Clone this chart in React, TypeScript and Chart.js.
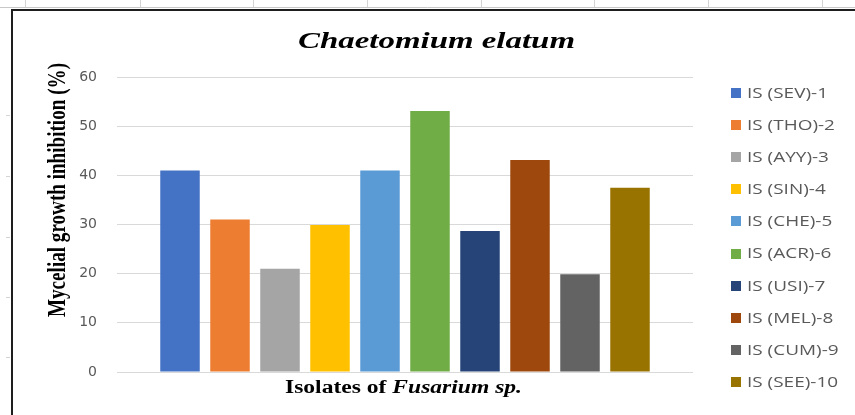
import React, { useEffect, useRef } from "react";
import { Chart, registerables } from "chart.js";

Chart.register(...registerables);

const isolates = [
  "IS (SEV)-1",
  "IS (THO)-2",
  "IS (AYY)-3",
  "IS (SIN)-4",
  "IS (CHE)-5",
  "IS (ACR)-6",
  "IS (USI)-7",
  "IS (MEL)-8",
  "IS (CUM)-9",
  "IS (SEE)-10",
];
const inhibition = [41.0, 31.0, 21.0, 29.9, 41.0, 53.1, 28.7, 43.1, 19.9, 37.5];
const barColors = [
  "#4472C4",
  "#ED7D31",
  "#A5A5A5",
  "#FFC000",
  "#5B9BD5",
  "#70AD47",
  "#264478",
  "#9E480E",
  "#636363",
  "#997300",
];
const yMin = 0;
const yMax = 60;
const yStep = 10;
const chartTitle = "Chaetomium elatum";
const yTitle = "Mycelial growth inhibition (%)";
const xTitleParts = [
  { text: "Isolates of ", italic: false },
  { text: "Fusarium sp.", italic: true },
];

type Part = { text: string; font: string };

function drawFitted(
  ctx: CanvasRenderingContext2D,
  parts: Part[],
  cx: number,
  baseline: number,
  targetWidth: number,
  color: string
) {
  let total = 0;
  const widths: number[] = [];
  for (const p of parts) {
    ctx.font = p.font;
    const w = ctx.measureText(p.text).width;
    widths.push(w);
    total += w;
  }
  const s = targetWidth / total;
  ctx.save();
  ctx.translate(cx - targetWidth / 2, baseline);
  ctx.scale(s, 1);
  ctx.fillStyle = color;
  ctx.textBaseline = "alphabetic";
  ctx.textAlign = "left";
  let x = 0;
  parts.forEach((p, i) => {
    ctx.font = p.font;
    ctx.fillText(p.text, x, 0);
    x += widths[i];
  });
  ctx.restore();
}

const decorPlugin = {
  id: "decor",
  beforeDraw(chart: any) {
    const ctx: CanvasRenderingContext2D = chart.ctx;
    ctx.save();
    ctx.fillStyle = "#ffffff";
    ctx.fillRect(0, 0, chart.width, chart.height);
    // spreadsheet cell marks outside the chart frame
    ctx.strokeStyle = "#d4d4d4";
    ctx.lineWidth = 1;
    [25, 140, 253, 367, 481, 594, 708, 822].forEach((x) => {
      ctx.beginPath();
      ctx.moveTo(x + 0.5, 0);
      ctx.lineTo(x + 0.5, 7);
      ctx.stroke();
    });
    [115, 176, 237, 297, 357].forEach((y) => {
      ctx.beginPath();
      ctx.moveTo(6, y + 0.5);
      ctx.lineTo(10, y + 0.5);
      ctx.stroke();
    });
    ctx.strokeStyle = "#c8c8c8";
    ctx.beginPath();
    ctx.moveTo(0, 7.5);
    ctx.lineTo(chart.width, 7.5);
    ctx.stroke();
    // chart frame
    ctx.strokeStyle = "#1e1e1e";
    ctx.lineWidth = 2;
    ctx.beginPath();
    ctx.moveTo(chart.width, 10);
    ctx.lineTo(12, 10);
    ctx.lineTo(12, chart.height);
    ctx.stroke();
    ctx.restore();
  },
  afterDraw(chart: any) {
    const ctx: CanvasRenderingContext2D = chart.ctx;
    const serif = '"Liberation Serif", "Times New Roman", serif';
    // title
    drawFitted(
      ctx,
      [{ text: chartTitle, font: `italic bold 24px ${serif}` }],
      436.5,
      48,
      277,
      "#000000"
    );
    // x axis title
    drawFitted(
      ctx,
      xTitleParts.map((p) => ({
        text: p.text,
        font: `${p.italic ? "italic " : ""}bold 18px ${serif}`,
      })),
      403.5,
      393,
      237,
      "#000000"
    );
    // y axis title (rotated)
    ctx.save();
    ctx.translate(65, 190);
    ctx.rotate(-Math.PI / 2);
    drawFitted(ctx, [{ text: yTitle, font: `bold 26px ${serif}` }], 0, 0, 254, "#000000");
    ctx.restore();
    // legend
    ctx.save();
    const lfont = '14px "Open Sans", "Liberation Sans", sans-serif';
    ctx.font = lfont;
    const w0 = ctx.measureText(chart.data.datasets[0].label).width;
    const sx = 81 / w0;
    chart.data.datasets.forEach((ds: any, i: number) => {
      const cy = 93 + i * 32.1;
      ctx.fillStyle = ds.backgroundColor;
      ctx.fillRect(731, Math.round(cy - 5), 10, 10);
      ctx.save();
      ctx.translate(747, cy);
      ctx.scale(sx, 1);
      ctx.font = lfont;
      ctx.fillStyle = "#595959";
      ctx.textBaseline = "middle";
      ctx.textAlign = "left";
      ctx.fillText(ds.label, 0, 1);
      ctx.restore();
    });
    ctx.restore();
  },
};

export default function App() {
  const canvasRef = useRef<HTMLCanvasElement | null>(null);

  useEffect(() => {
    if (!canvasRef.current) return;
    const chart = new Chart(canvasRef.current, {
      type: "bar",
      data: {
        labels: [""],
        datasets: isolates.map((name, i) => ({
          label: name,
          data: [inhibition[i]],
          backgroundColor: barColors[i],
          borderWidth: 0,
          categoryPercentage: 500 / 576,
          barPercentage: 0.79,
        })),
      },
      options: {
        responsive: false,
        animation: false,
        layout: { padding: { left: 0, right: 162, top: 77, bottom: 43 } },
        plugins: {
          legend: { display: false },
          title: { display: false },
          tooltip: { enabled: false },
        },
        scales: {
          x: {
            display: false,
            offset: true,
            grid: { display: false },
          },
          y: {
            min: yMin,
            max: yMax,
            ticks: {
              stepSize: yStep,
              padding: 20,
              color: "#595959",
              font: { family: '"DejaVu Sans", sans-serif', size: 14 },
            },
            grid: { color: "#d9d9d9", lineWidth: 1, drawTicks: false },
            border: { display: false },
            afterFit: (scale: any) => {
              scale.width = 117;
            },
          },
        },
      },
      plugins: [decorPlugin],
    });
    return () => chart.destroy();
  }, []);

  return (
    <div style={{ position: "absolute", left: 0, top: 0, width: 855, height: 415 }}>
      <canvas ref={canvasRef} width={855} height={415} style={{ width: 855, height: 415 }} />
    </div>
  );
}
